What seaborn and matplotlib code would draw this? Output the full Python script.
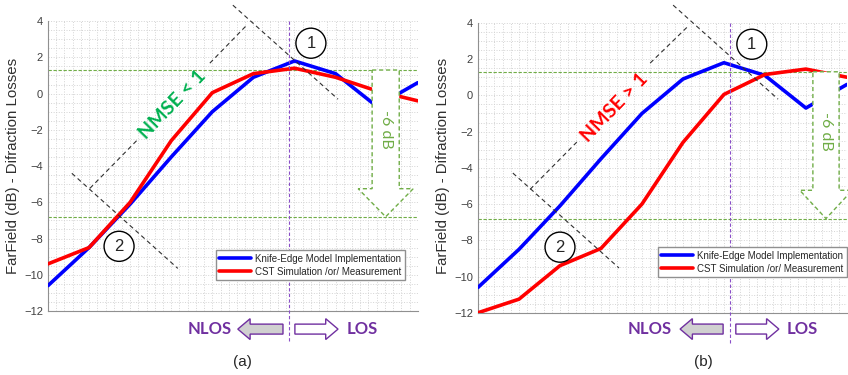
import numpy as np
import pandas as pd
import matplotlib
matplotlib.use("Agg")
import matplotlib.pyplot as plt
import seaborn as sns
from matplotlib.patches import Ellipse, Polygon, FancyArrow
from matplotlib.ticker import MultipleLocator

# data (x = tick index 0..9)
x_idx = list(range(10))
knife_edge = [-10.6, -8.5, -6.1, -3.5, -1.0, 0.9, 1.8, 1.1, -0.7, 0.6]
cst_a = [-9.4, -8.5, -6.0, -2.6, 0.05, 1.1, 1.4, 0.9, 0.15, -0.4]
cst_b = [-12.0, -11.25, -9.4, -8.45, -6.0, -2.6, 0.05, 1.15, 1.45, 1.0]
series_names = ["Knife-Edge Model Implementation", "CST Simulation /or/ Measurement"]
level_hi = [1.3, 1.3]
level_lo = [-6.8, -6.8]
yticks = [4, 2, 0, -2, -4, -6, -8, -10, -12]

sns.set_style("white")
plt.rcParams['font.family'] = ['Liberation Sans', 'DejaVu Sans']

PURPLE = "#7030A0"
VLINE = "#8A4FC8"
GREEN = "#70AD47"
NMSE_GREEN = "#00B050"

fig = plt.figure(figsize=(8.48, 3.75), dpi=100)
ax_a = fig.add_axes([0.0566, 0.1707, 0.436, 0.773])
ax_b = fig.add_axes([0.5637, 0.166, 0.435, 0.773])

# per-panel layout settings
panels = [
    dict(ax=ax_a, cst=cst_a, nmse="NMSE < 1", nmse_col=NMSE_GREEN, nmse_xy=(3.04, -0.59),
         vline=5.86, vbot=-13.77, line1=[(4.50, 4.88), (7.06, -0.31)],
         line2=[(0.58, -4.40), (3.16, -9.65)],
         br=[(1.02, -5.23), (2.17, -2.57), (3.94, 1.68), (4.84, 3.78)],
         c1=(6.40, 2.78), c2=(1.73, -8.43), cw=0.73,
         arr=dict(cx=8.22, sh=0.33, hh=0.67, ystart=-5.25),
         nl=(3.94, -13.0), los=(7.64, -13.0), la=(5.72, 4.62), ra=(6.01, 7.06),
         leg=(0.965, 0.107), hi=level_hi[0], lo=level_lo[0]),
    dict(ax=ax_b, cst=cst_b, nmse="NMSE > 1", nmse_col="#FF0000", nmse_xy=(3.34, -0.65),
         vline=6.15, vbot=-13.67, line1=[(4.76, 4.98), (7.32, -0.21)],
         line2=[(0.85, -4.29), (3.44, -9.53)],
         br=[(1.27, -5.19), (2.41, -2.58), (4.20, 1.78), (5.10, 3.76)],
         c1=(6.68, 2.82), c2=(2.0, -8.38), cw=0.73,
         arr=dict(cx=8.49, sh=0.32, hh=0.64, ystart=-5.24),
         nl=(4.20, -12.9), los=(7.90, -12.9), la=(5.98, 4.93), ra=(6.29, 7.34),
         leg=(1.0, 0.123), hi=level_hi[1], lo=level_lo[1]),
]

for p in panels:
    ax = p["ax"]
    df = pd.DataFrame({
        "x": x_idx * 2,
        "y": knife_edge + p["cst"],
        "series": [series_names[0]] * 10 + [series_names[1]] * 10,
    })
    sns.lineplot(data=df, x="x", y="y", hue="series", palette=["#0000FF", "#FF0000"],
                 linewidth=2.6, ax=ax, zorder=3)

    ax.set_xlim(0, 9)
    ax.set_ylim(-12, 4)
    ax.set_yticks(yticks)
    ax.set_xticks(x_idx)
    ax.set_xticklabels([])
    ax.xaxis.set_minor_locator(MultipleLocator(0.2))
    ax.yaxis.set_minor_locator(MultipleLocator(0.5))
    ax.tick_params(axis="both", which="major", direction="in", length=4, color="#808080",
                   labelsize=8, labelcolor="#404040")
    ax.tick_params(axis="both", which="minor", length=0)
    ax.grid(True, which="both", color="#D4D4D4", linestyle=":", linewidth=0.7)
    ax.set_axisbelow(True)
    for s in ["top", "right"]:
        ax.spines[s].set_visible(False)
    for s in ["left", "bottom"]:
        ax.spines[s].set_color("#909090")
        ax.spines[s].set_linewidth(0.8)
    ax.set_xlabel("")
    ax.set_ylabel("")

    # green reference levels
    ax.axhline(p["hi"], color=GREEN, linestyle=(0, (3, 1.5)), linewidth=0.8, zorder=2)
    ax.axhline(p["lo"], color=GREEN, linestyle=(0, (3, 1.5)), linewidth=0.8, zorder=2)

    # LOS / NLOS boundary
    ax.plot([p["vline"], p["vline"]], [4, p["vbot"]], color=VLINE, linestyle=(0, (3, 2)),
            linewidth=0.8, clip_on=False, zorder=4)

    # dashed construction lines
    dk = dict(color="#303030", linestyle=(0, (4, 3)), linewidth=0.8, clip_on=False, zorder=4)
    for seg in (p["line1"], p["line2"]):
        ax.plot([seg[0][0], seg[1][0]], [seg[0][1], seg[1][1]], **dk)
    b = p["br"]
    ax.plot([b[0][0], b[1][0]], [b[0][1], b[1][1]], **dk)
    ax.plot([b[2][0], b[3][0]], [b[2][1], b[3][1]], **dk)
    ax.text(*p["nmse_xy"], p["nmse"], color=p["nmse_col"], fontsize=14, fontweight="bold",
            family="Lato", rotation=46, ha="center", va="center", rotation_mode="anchor", zorder=5)

    # numbered circles
    for num, c in (("1", p["c1"]), ("2", p["c2"])):
        ax.add_patch(Ellipse(c, p["cw"], 1.66, facecolor="white", edgecolor="black",
                             linewidth=1.0, zorder=5, clip_on=False))
        ax.text(c[0], c[1], num, fontsize=12, ha="center", va="center", zorder=6)

    # -6 dB dashed arrow
    a = p["arr"]
    cx, sh, hh = a["cx"], a["sh"], a["hh"]
    pts = [(cx - sh, p["hi"]), (cx + sh, p["hi"]), (cx + sh, a["ystart"]), (cx + hh, a["ystart"]),
           (cx, p["lo"]), (cx - hh, a["ystart"]), (cx - sh, a["ystart"])]
    ax.add_patch(Polygon(pts, closed=True, facecolor="white", edgecolor=GREEN,
                         linestyle=(0, (3, 2)), linewidth=1.0, zorder=4, clip_on=False))
    ax.text(cx, -2.0, "-6 dB", color=GREEN, fontsize=11.5, family="Lato", rotation=-90,
            ha="center", va="center", zorder=5, clip_on=False)

    # NLOS / LOS block arrows
    ax.add_patch(FancyArrow(p["la"][0], p["nl"][1], p["la"][1] - p["la"][0], 0, width=0.55,
                            head_width=1.15, head_length=0.3, length_includes_head=True,
                            facecolor="#D0D0D0", edgecolor=PURPLE, linewidth=1.0, clip_on=False))
    ax.add_patch(FancyArrow(p["ra"][0], p["los"][1], p["ra"][1] - p["ra"][0], 0, width=0.55,
                            head_width=1.15, head_length=0.3, length_includes_head=True,
                            facecolor="white", edgecolor=PURPLE, linewidth=1.0, clip_on=False))
    ax.text(*p["nl"], "NLOS", color=PURPLE, fontsize=12, fontweight="bold", family="Lato",
            ha="center", va="center", clip_on=False)
    ax.text(*p["los"], "LOS", color=PURPLE, fontsize=12, fontweight="bold", family="Lato",
            ha="center", va="center", clip_on=False)

    leg = ax.legend(loc="lower right", bbox_to_anchor=p["leg"], borderaxespad=0, fontsize=7,
                    handlelength=3.3, frameon=True, fancybox=False, edgecolor="#909090",
                    framealpha=1, borderpad=0.35, labelspacing=0.3, handletextpad=0.4)
    leg.set_zorder(7)
    for h in leg.get_lines():
        h.set_linewidth(2.6)

# y labels and captions
fig.text(13 / 848, 1 - 166 / 375, "FarField (dB) - Difraction Losses", rotation=90,
         ha="center", va="center", fontsize=10.8, color="#303030")
fig.text(443 / 848, 1 - 166 / 375, "FarField (dB) - Difraction Losses", rotation=90,
         ha="center", va="center", fontsize=10.8, color="#303030")
fig.text(242 / 848, 1 - 362 / 375, "(a)", ha="center", va="center", fontsize=11)
fig.text(703 / 848, 1 - 362 / 375, "(b)", ha="center", va="center", fontsize=11)

fig.savefig("out.png", dpi=100)
